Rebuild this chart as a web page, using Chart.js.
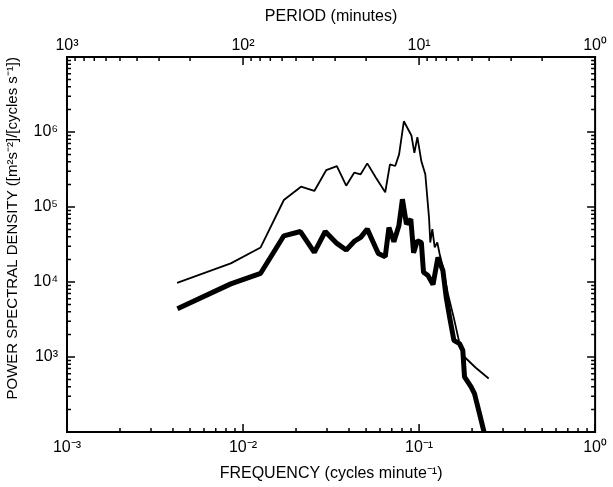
<!DOCTYPE html>
<html><head><meta charset="utf-8">
<script src="https://cdn.jsdelivr.net/npm/chart.js@4/dist/chart.umd.min.js"></script>
<style>html,body{margin:0;padding:0;background:#fff}#wrap{width:613px;height:487px}</style>
</head><body><div id="wrap"><canvas id="c" width="613" height="487"></canvas></div>
<script>
// ---- data ----
const thinFreq = [0.00422,0.00852,0.01259,0.01706,0.02134,0.02541,0.02972,0.03412,0.03855,0.04278,0.04659,0.05079,0.0569,0.06423,0.06832,0.07319,0.07701,0.08196,0.09048,0.09406,0.09781,0.1030,0.1085,0.1139,0.1158,0.1189,0.1227,0.1269,0.1309,0.1366,0.1459,0.1578,0.1698,0.1812,0.2099,0.2486];
const thinPSD  = [9720,17700,28900,124000,186600,163700,311000,351600,192300,286500,272700,381800,245400,157300,370800,351900,502600,1390000,899000,527000,853000,409000,273000,72300,33600,50700,28900,33700,23600,15700,6950,3270,1507,1000,719,516];
const thickFreq = [0.00424,0.00852,0.01259,0.01706,0.02118,0.02541,0.02931,0.03412,0.03855,0.04278,0.04659,0.05079,0.05867,0.06423,0.06744,0.07194,0.07677,0.08043,0.08477,0.08975,0.0931,0.09781,0.1030,0.1060,0.1124,0.1200,0.1280,0.1366,0.1426,0.1491,0.1577,0.1698,0.1772,0.1812,0.1975,0.2064,0.2203,0.2349,0.2518];
const thickPSD  = [4394,9440,13060,41300,47100,24800,47100,32700,26700,34700,39300,50700,24000,21700,53200,34400,56100,127000,59200,68900,24500,35500,33700,13460,12170,9230,21300,14160,6270,3400,1667,1507,1227,542,400,326,177,96,58];

const freqTickValues   = [0.001, 0.01, 0.1, 1];
const freqTickLabels   = ['10⁻³','10⁻²','10⁻¹','10⁰'];
const periodTickValues = [1000, 100, 10, 1];
const periodTickLabels = ['10³','10²','10¹','10⁰'];
const psdTickValues    = [1e3, 1e4, 1e5, 1e6];
const psdTickLabels    = ['10³','10⁴','10⁵','10⁶'];

// ---- helpers ----
function logTicks(min, max){
  const out = [];
  for (let e = Math.round(Math.log10(min)); e <= Math.round(Math.log10(max)); e++){
    for (let m = 1; m <= 9; m++){
      const v = m * Math.pow(10, e);
      if (v >= min*0.9999 && v <= max*1.0001) out.push(v);
    }
  }
  return out;
}
function labelFor(values, labels){
  return function(v){
    const i = values.findIndex(t => Math.abs(Math.log10(t) - Math.log10(v)) < 1e-6);
    return i >= 0 ? labels[i] : '';
  };
}
const isMajor = v => Math.abs(Math.log10(v) - Math.round(Math.log10(v))) < 1e-6;

const FAMILY = "'Liberation Sans', Arial, sans-serif";
const FONT = {family: FAMILY, size: 16};
const TFONT = {family: FAMILY, size: 16};
const YTFONT = {family: FAMILY, size: 15};

const frame = {
  id: 'frame',
  afterDraw(chart){
    const {ctx, chartArea: a} = chart;
    const xs = chart.scales.x, xt = chart.scales.x2, ys = chart.scales.y;
    ctx.save();
    ctx.strokeStyle = '#000';
    ctx.lineWidth = 1.5;
    ctx.beginPath();
    xs.ticks.forEach(t => {
      const p = xs.getPixelForValue(t.value), L = isMajor(t.value) ? 8 : 4;
      ctx.moveTo(p, a.bottom); ctx.lineTo(p, a.bottom - L);
    });
    xt.ticks.forEach(t => {
      const p = xt.getPixelForValue(t.value), L = isMajor(t.value) ? 8 : 4;
      ctx.moveTo(p, a.top); ctx.lineTo(p, a.top + L);
    });
    ys.ticks.forEach(t => {
      const p = ys.getPixelForValue(t.value), L = isMajor(t.value) ? 8 : 4;
      ctx.moveTo(a.left, p); ctx.lineTo(a.left + L, p);
      ctx.moveTo(a.right, p); ctx.lineTo(a.right - L, p);
    });
    ctx.stroke();
    ctx.lineWidth = 2;
    ctx.strokeRect(a.left, a.top, a.width, a.height);
    ctx.restore();
  }
};

function axisCommon(){
  return {
    type: 'logarithmic',
    grid: {display: false, drawTicks: false},
    border: {display: false},
  };
}

new Chart(document.getElementById('c'), {
  type: 'line',
  data: {
    datasets: [
      {data: thinFreq.map((f,i)=>({x:f, y:thinPSD[i]})), borderColor:'#000', borderWidth:1.8, pointRadius:0, tension:0, clip:0, borderJoinStyle:'bevel'},
      {data: thickFreq.map((f,i)=>({x:f, y:thickPSD[i]})), borderColor:'#000', borderWidth:5, pointRadius:0, tension:0, clip:0, borderJoinStyle:'bevel'}
    ]
  },
  options: {
    responsive: false, animation: false, devicePixelRatio: 1,
    layout: {padding: {left: 0, right: 15, top: 0, bottom: 0}},
    plugins: {legend: {display: false}, tooltip: {enabled: false}},
    scales: {
      x: Object.assign(axisCommon(), {
        position: 'bottom', min: 0.001, max: 1,
        afterBuildTicks: s => { s.ticks = logTicks(0.001, 1).map(v => ({value: v})); },
        ticks: {autoSkip: false, maxRotation: 0, padding: 6, color: '#000', font: FONT, callback: labelFor(freqTickValues, freqTickLabels)},
        title: {display: true, text: 'FREQUENCY (cycles minute⁻¹)', color: '#000', font: TFONT, padding: {top: 4, bottom: 4}},
        afterFit: s => { s.height = 55; }
      }),
      x2: Object.assign(axisCommon(), {
        axis: 'x', position: 'top', min: 1, max: 1000, reverse: true,
        afterBuildTicks: s => { s.ticks = logTicks(1, 1000).map(v => ({value: v})); },
        ticks: {autoSkip: false, maxRotation: 0, padding: 2, color: '#000', font: FONT, callback: labelFor(periodTickValues, periodTickLabels)},
        title: {display: true, text: 'PERIOD (minutes)', color: '#000', font: TFONT, padding: {top: 7, bottom: 4}},
        afterFit: s => { s.height = 57; }
      }),
      y: Object.assign(axisCommon(), {
        position: 'left', min: 100, max: 1e7,
        afterBuildTicks: s => { s.ticks = logTicks(100, 1e7).map(v => ({value: v})); },
        ticks: {autoSkip: false, padding: 9, color: '#000', font: FONT, callback: labelFor(psdTickValues, psdTickLabels)},
        title: {display: true, align: 'end', text: 'POWER SPECTRAL DENSITY ([m²s⁻²]/[cycles s⁻¹])', color: '#000', font: YTFONT, padding: {top: 4, bottom: 0}},
        afterFit: s => { s.width = 67; }
      })
    }
  },
  plugins: [frame]
});
</script>
</body></html>
